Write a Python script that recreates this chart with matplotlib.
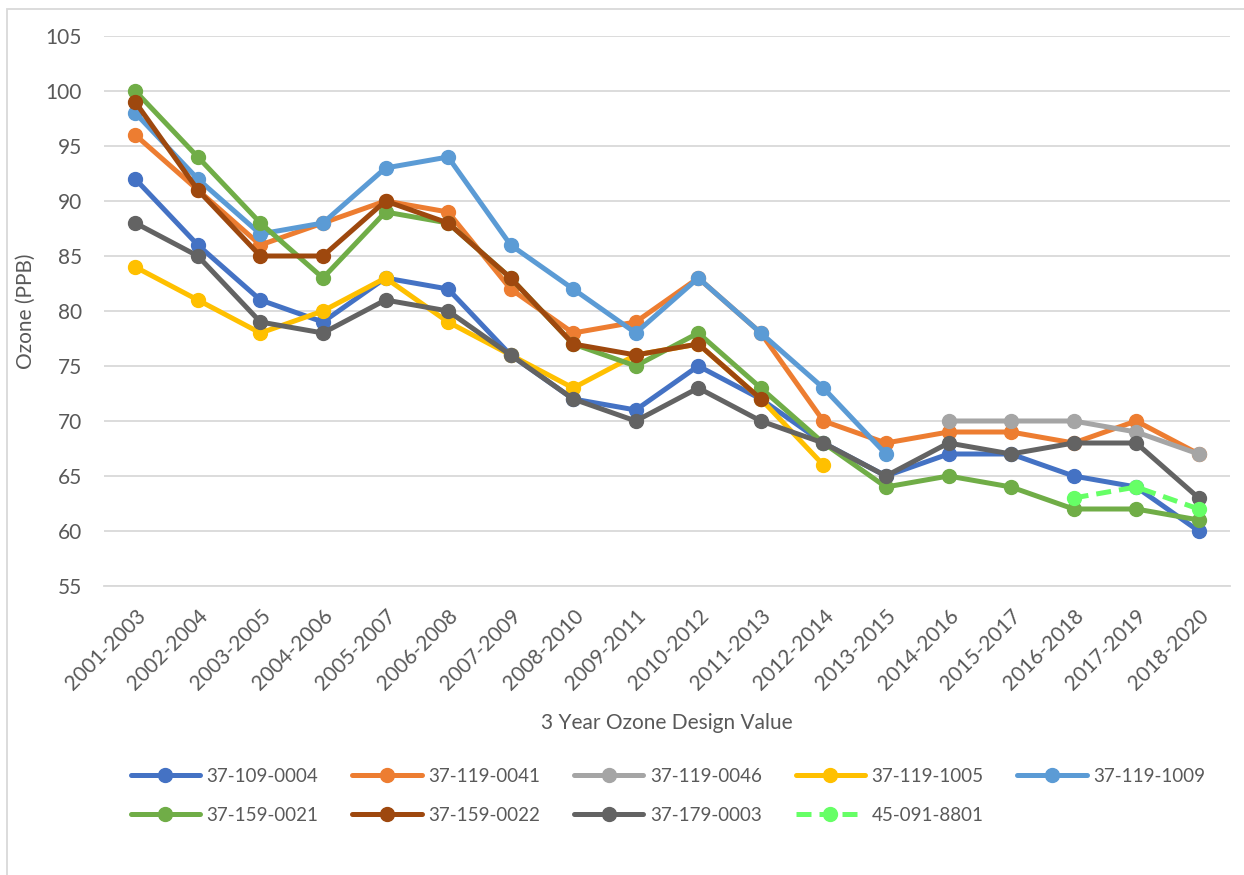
import numpy as np
import matplotlib
matplotlib.use('Agg')
import matplotlib.pyplot as plt
from matplotlib.patches import Rectangle

plt.rcParams['font.family'] = ['Lato', 'DejaVu Sans']

nan = np.nan

# 3-year design value periods
periods = ['2001-2003', '2002-2004', '2003-2005', '2004-2006', '2005-2007', '2006-2008',
           '2007-2009', '2008-2010', '2009-2011', '2010-2012', '2011-2013', '2012-2014',
           '2013-2015', '2014-2016', '2015-2017', '2016-2018', '2017-2019', '2018-2020']

# ozone design values (ppb) per monitor site
s_37_109_0004 = [92, 86, 81, 79, 83, 82, 76, 72, 71, 75, 72, 68, 65, 67, 67, 65, 64, 60]
s_37_119_0041 = [96, 91, 86, 88, 90, 89, 82, 78, 79, 83, 78, 70, 68, 69, 69, 68, 70, 67]
s_37_119_0046 = [nan] * 13 + [70, 70, 70, 69, 67]
s_37_119_1005 = [84, 81, 78, 80, 83, 79, 76, 73, 76, 77, 72, 66] + [nan] * 6
s_37_119_1009 = [98, 92, 87, 88, 93, 94, 86, 82, 78, 83, 78, 73, 67] + [nan] * 5
s_37_159_0021 = [100, 94, 88, 83, 89, 88, 83, 77, 75, 78, 73, 68, 64, 65, 64, 62, 62, 61]
s_37_159_0022 = [99, 91, 85, 85, 90, 88, 83, 77, 76, 77, 72] + [nan] * 7
s_37_179_0003 = [88, 85, 79, 78, 81, 80, 76, 72, 70, 73, 70, 68, 65, 68, 67, 68, 68, 63]
s_45_091_8801 = [nan] * 15 + [63, 64, 62]

sites = ['37-109-0004', '37-119-0041', '37-119-0046', '37-119-1005', '37-119-1009',
         '37-159-0021', '37-159-0022', '37-179-0003', '45-091-8801']
values = [s_37_109_0004, s_37_119_0041, s_37_119_0046, s_37_119_1005, s_37_119_1009,
          s_37_159_0021, s_37_159_0022, s_37_179_0003, s_45_091_8801]
colors = ['#4472C4', '#ED7D31', '#A5A5A5', '#FFC000', '#5B9BD5',
          '#70AD47', '#9E480E', '#636363', '#66FF66']
styles = ['-'] * 8 + ['--']

text_color = '#595959'
grid_color = '#D9D9D9'

fig = plt.figure(figsize=(12.44, 8.75), dpi=100)
ax = fig.add_axes([104 / 1244, 1 - 586 / 875, (1230 - 104) / 1244, 550 / 875])

x = np.arange(len(periods))
lines = []
for name, vals, col, ls in zip(sites, values, colors, styles):
    ln, = ax.plot(x, vals, color=col, linestyle=ls, linewidth=3.6, marker='o',
                  markersize=10, label=name, solid_capstyle='round',
                  dashes=(3, 1.6) if ls == '--' else (None, None))
    lines.append(ln)

ax.set_ylim(55, 105)
ax.set_yticks(range(55, 106, 5))
ax.set_xlim(-0.5, len(periods) - 0.5)
ax.set_xticks(x)
ax.set_xticklabels(periods, rotation=45, ha='right', rotation_mode='anchor')
ax.tick_params(axis='both', length=0, labelsize=15, colors=text_color)
ax.tick_params(axis='y', pad=16)
ax.tick_params(axis='x', pad=14)
ax.grid(axis='y', color=grid_color, linewidth=1.3)
ax.set_axisbelow(True)
for sp in ['top', 'right', 'left']:
    ax.spines[sp].set_visible(False)
ax.spines['bottom'].set_color(grid_color)
ax.spines['bottom'].set_linewidth(1.3)

ax.set_ylabel('Ozone (PPB)', fontsize=15, color=text_color, labelpad=7)
ax.set_xlabel('3 Year Ozone Design Value', fontsize=15, color=text_color, labelpad=14)

# legend filled row by row like the original (matplotlib fills by column)
order = [0, 5, 1, 6, 2, 7, 3, 8, 4]
fig.legend([lines[i] for i in order], [sites[i] for i in order],
           loc='upper center', bbox_to_anchor=(668 / 1244, 1 - 760 / 875), ncol=5,
           frameon=False, fontsize=13.5, labelcolor=text_color, handlelength=3.7,
           handletextpad=0.35, columnspacing=1.8, borderaxespad=0, labelspacing=1.2)

# chart area border
fig.add_artist(Rectangle((7 / 1244, -0.01), 1.1, 1 - 9 / 875 + 0.01,
                         transform=fig.transFigure, fill=False,
                         edgecolor=grid_color, linewidth=1.3, clip_on=False))

fig.savefig('out.png', dpi=100)
